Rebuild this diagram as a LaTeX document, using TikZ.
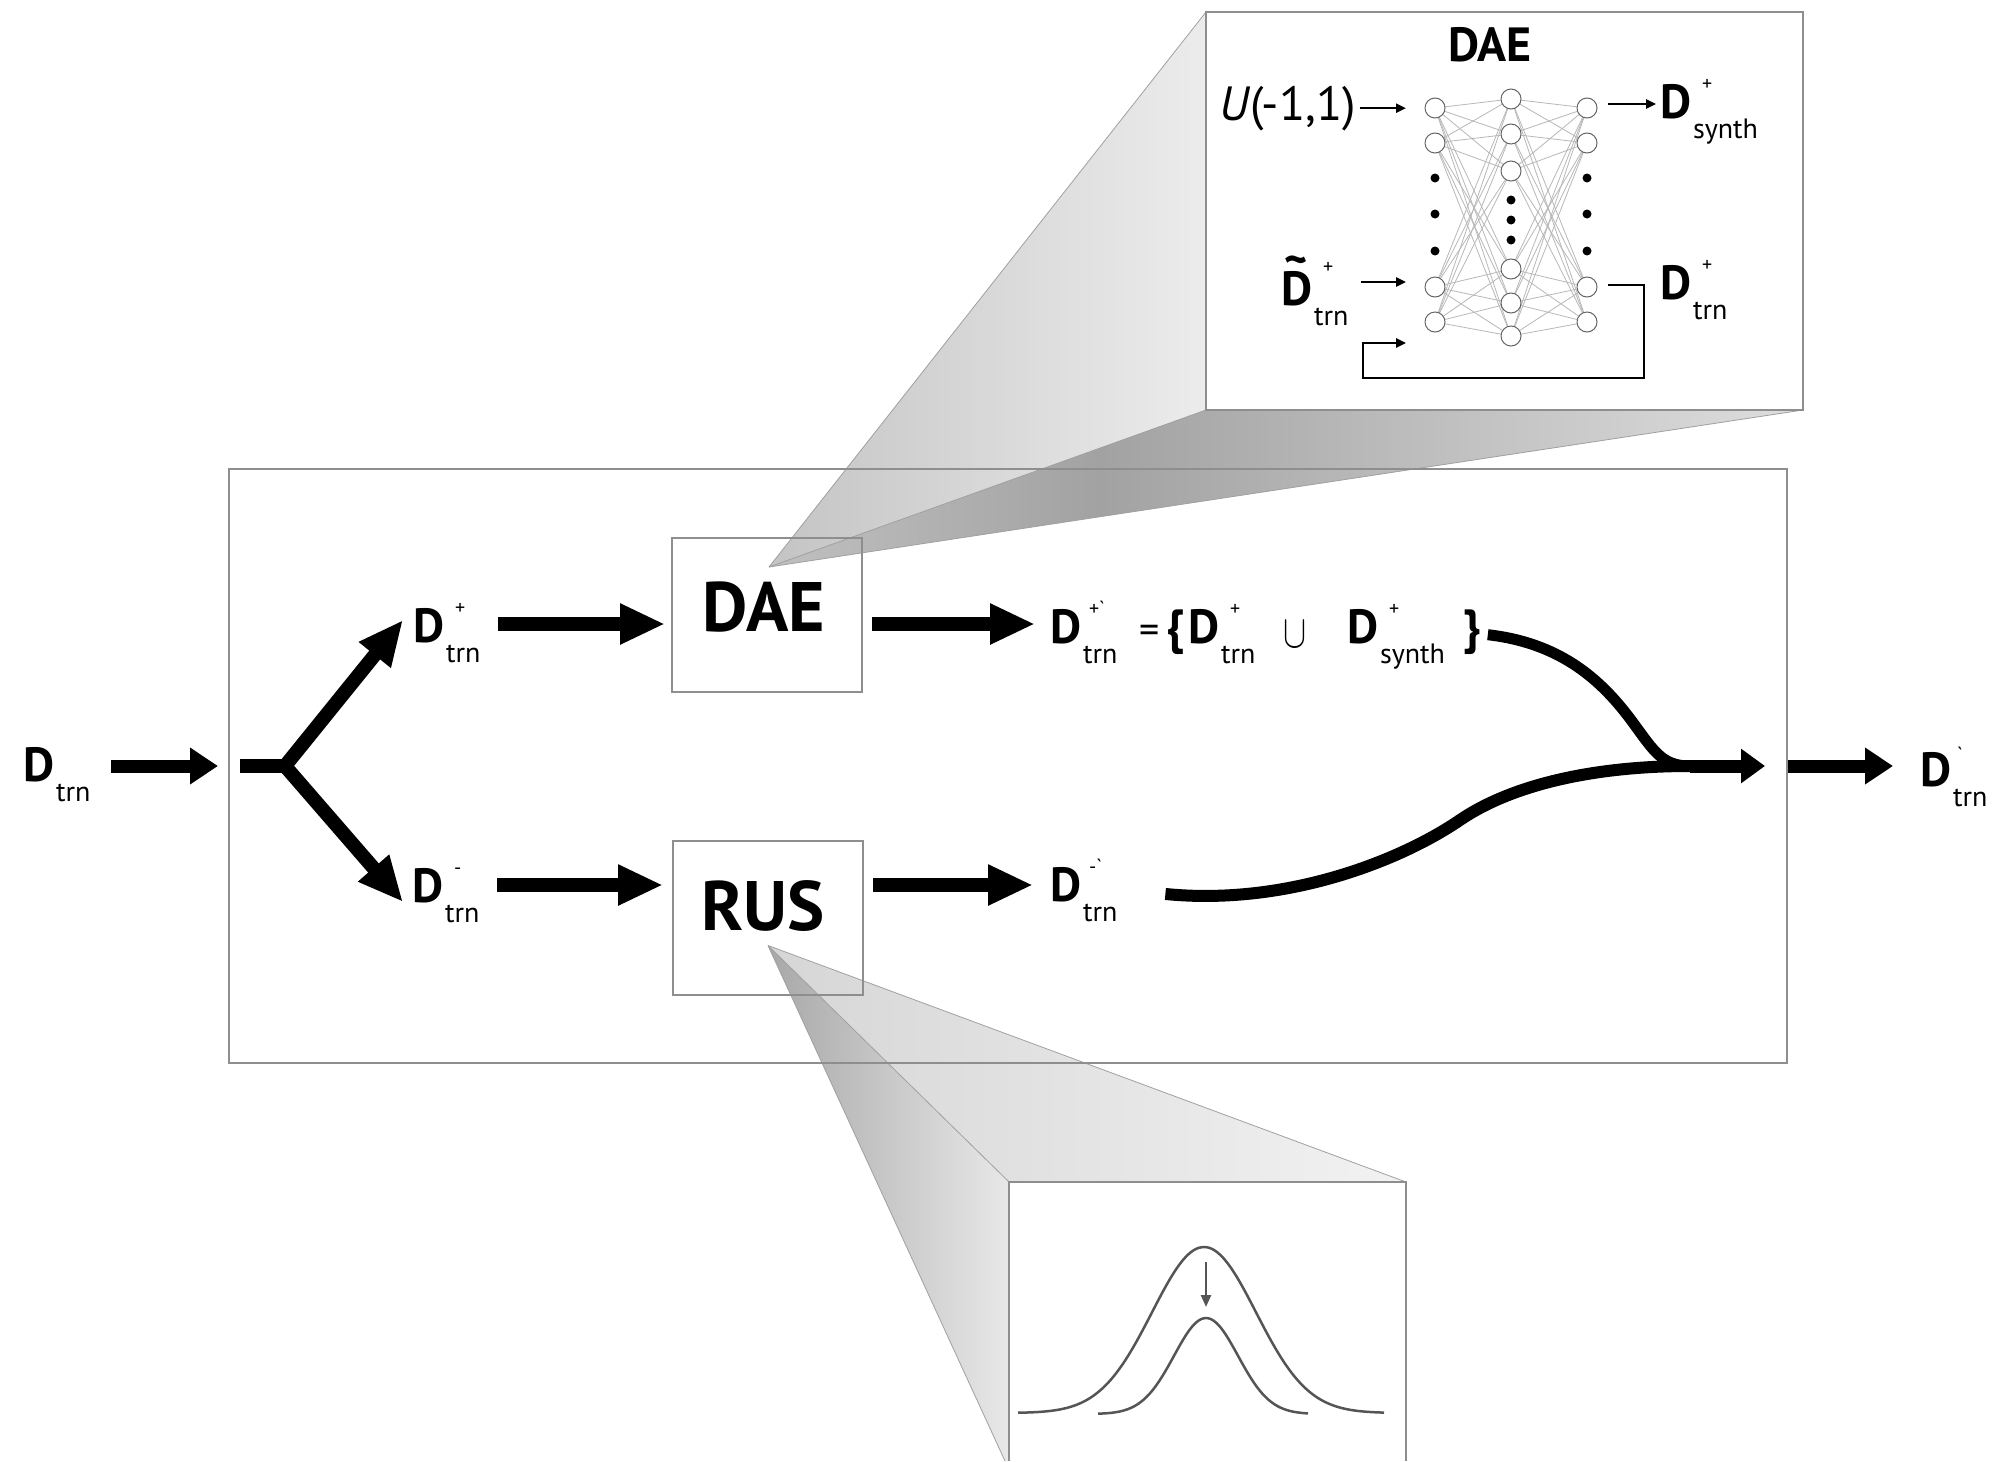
\documentclass[tikz,border=0pt]{standalone}
\usepackage{fontspec}
\setmainfont{PT Sans}[Ligatures=TeXOff]
\usetikzlibrary{arrows.meta,calc}

\definecolor{framegray}{HTML}{8E8E8E}
\definecolor{linkgray}{HTML}{B8B8B8}
\definecolor{neurongray}{HTML}{666666}
\definecolor{plotgray}{HTML}{555555}
\definecolor{edgegray}{HTML}{A0A0A0}
\definecolor{daeSideL}{HTML}{C4C4C4}
\definecolor{daeSideR}{HTML}{ECECEC}
\definecolor{daeBotL}{HTML}{C0C0C0}
\definecolor{daeBotM}{HTML}{A2A2A2}
\definecolor{daeBotR}{HTML}{DEDEDE}
\definecolor{rusSideL}{HTML}{A8A8A8}
\definecolor{rusSideR}{HTML}{E8E8E8}
\definecolor{rusTopL}{HTML}{D6D6D6}
\definecolor{rusTopR}{HTML}{F2F2F2}

\pgfdeclarehorizontalshading{daeside}{100bp}{color(0bp)=(daeSideL); color(25bp)=(daeSideL); color(75bp)=(daeSideR); color(100bp)=(daeSideR)}
\pgfdeclarehorizontalshading{daebottom}{100bp}{color(0bp)=(daeBotL); color(25bp)=(daeBotL); color(41bp)=(daeBotM); color(75bp)=(daeBotR); color(100bp)=(daeBotR)}
\pgfdeclarehorizontalshading{russide}{100bp}{color(0bp)=(rusSideL); color(25bp)=(rusSideL); color(75bp)=(rusSideR); color(100bp)=(rusSideR)}
\pgfdeclarehorizontalshading{rustop}{100bp}{color(0bp)=(rusTopL); color(25bp)=(rusTopL); color(75bp)=(rusTopR); color(100bp)=(rusTopR)}

\pgfdeclarelayer{background}
\pgfdeclarelayer{panel}
\pgfdeclarelayer{links}
\pgfsetlayers{background,panel,links,main}

% D with a superscript and a subscript:
% #1 shift of sup, #2 raise of sup, #3 sup, #4 shift of sub, #5 drop of sub, #6 sub
\newcommand{\Dlab}[6]{{\fontsize{24}{24}\selectfont\bfseries D}\rlap{\hspace{#1}\raisebox{#2}{\fontsize{10}{10}\selectfont #3}}\hspace{#4}\raisebox{-#5}{\fontsize{14}{14}\selectfont #6}}
\newcommand{\Dmain}[2]{\Dlab{5.5pt}{14pt}{#1}{1pt}{10pt}{#2}}

\begin{document}
\begin{tikzpicture}[x=0.5pt,y=-0.5pt,
  every node/.style={inner sep=0pt,outer sep=0pt},
  frame/.style={draw=framegray,line width=1pt},
  procbox/.style={frame,minimum width=95pt,minimum height=77pt},
  boxtext/.style={font=\fontsize{35}{35}\selectfont\bfseries},
  flow/.style={line width=7pt,-{Triangle[length=22.5pt,width=19pt]}},
  io/.style={line width=6.5pt,-{Triangle[length=14pt,width=17.5pt]}},
  stub/.style={line width=7pt},
  mergearr/.style={line width=6.5pt,-{Triangle[length=12pt,width=16.5pt]}},
  curveU/.style={line width=5.5pt},
  curveL/.style={line width=6pt},
  thinarr/.style={line width=1.25pt,-{Triangle[length=5pt,width=4.5pt]}},
  neuron/.style={circle,draw=neurongray,fill=white,line width=0.5pt,minimum size=10pt},
  ndot/.style={circle,fill=black,minimum size=4.5pt},
  link/.style={draw=linkgray,line width=0.4pt},
  face/.style={draw=edgegray,line width=0.4pt},
  gauss/.style={draw=plotgray,line width=1.25pt},
  plotarr/.style={draw=plotgray,line width=1.25pt,-{Triangle[length=6pt,width=5pt]}},
]
\useasboundingbox (0,0) rectangle (1995,1461);

% ---------- main frame and process boxes ----------
\node[frame,minimum width=779pt,minimum height=297pt] (main) at (1008,766) {};
\node[procbox] (dae) at (767,615) {};
\node[boxtext] (daelbl) at (764,607) {DAE};
\node[procbox] (rus) at (768,917.5) {};
\node[boxtext] (ruslbl) at (763,906) {RUS};

% ---------- data labels ----------
\node[anchor=base west] (din) at (23,781) {\Dlab{0pt}{0pt}{}{1pt}{10pt}{trn}};
\node[anchor=base west] (dplus) at (413,642) {\Dmain{+}{trn}};
\node[anchor=base west] (dminus) at (412,902) {\Dmain{-}{trn}};
\node[anchor=base west] (dpp) at (1050,643) {\Dlab{4pt}{14pt}{+`}{1pt}{10pt}{trn}};
\node[anchor=base west] (dmm) at (1050,901) {\Dlab{4pt}{14pt}{-`}{1pt}{10pt}{trn}};
\node[anchor=base west] (dout) at (1920,786) {\Dlab{3pt}{12.5pt}{`}{1pt}{10pt}{trn}};

% union formula
\node[anchor=base west,font=\fontsize{20}{20}\selectfont] (eq) at (1139,643) {=};
\node[anchor=base west,font=\fontsize{24}{24}\selectfont\bfseries] (lbr) at (1166,643) {\{};
\node[anchor=base west] (dun) at (1188,643) {\Dmain{+}{trn}};
\node[anchor=base west] (cup) at (1283,647) {\fontsize{18}{18}\selectfont\scalebox{1}[1.35]{$\cup$}};
\node[anchor=base west] (dsyn) at (1347,643) {\Dmain{+}{synth}};
\node[anchor=base west,font=\fontsize{24}{24}\selectfont\bfseries] (rbr) at (1463,643) {\}};

% ---------- flow arrows ----------
\coordinate (rowP) at (0,624);
\coordinate (rowM) at (0,885);
\coordinate (axis) at (0,766);
\coordinate (fork) at (285,766);
\coordinate (tipU) at (403,620);
\coordinate (tipD) at (403,902);
\coordinate (merge) at (1690,766);
\coordinate (upbend) at (1628,716);
\coordinate (lowbend) at (1460,820);

\draw[io,shorten <=10.5pt,shorten >=5.5pt] (din.east |- axis) -- (main.west |- axis);
\draw[stub] ($(main.west |- axis)+(11,0)$) -- (fork);
\draw[flow] (fork) -- (tipU);
\draw[flow] (fork) -- (tipD);

\draw[flow,shorten <=9pt,shorten >=3.5pt] (dplus.east |- rowP) -- (dae.west |- rowP);
\draw[flow,shorten <=5pt,shorten >=7.5pt] (dae.east |- rowP) -- (dpp.west |- rowP);
\draw[flow,shorten <=9pt,shorten >=5pt] (dminus.east |- rowM) -- (rus.west |- rowM);
\draw[flow,shorten <=5pt,shorten >=8.5pt] (rus.east |- rowM) -- (dmm.west |- rowM);

\draw[curveU] ($(rbr.east)+(7,3)$) .. controls +(70,8) and +(-30,-39) .. (upbend)
  .. controls +(25,33) and +(-30,0) .. (merge);
\draw[curveL] ($(dmm.east)+(48,4)$) .. controls +(120,12) and +(-60,41) .. (lowbend)
  .. controls +(50,-34) and +(-100,0) .. (merge);
\draw[mergearr,shorten >=11pt] (merge) -- (main.east |- merge);
\draw[io,shorten <=0.5pt,shorten >=13.5pt] (main.east |- axis) -- (dout.west |- axis);

% ---------- DAE detail ----------
\begin{pgfonlayer}{panel}
\node[frame,fill=white,minimum width=298.5pt,minimum height=199pt] (daeinset) at (1504.5,211) {};
\end{pgfonlayer}
\node[font=\fontsize{24}{24}\selectfont\bfseries] (daetitle) at (1490,45) {DAE};

\foreach \n/\y in {1/108,2/143,3/287,4/322}{
  \node[neuron] (l\n) at (1435,\y) {};
  \node[neuron] (r\n) at (1587,\y) {};
}
\foreach \n/\y in {1/99,2/134,3/171,4/269,5/303,6/336}
  \node[neuron] (m\n) at (1511,\y) {};
\foreach \n/\y in {1/178,2/214,3/251}{
  \node[ndot] (ld\n) at (1435,\y) {};
  \node[ndot] (rd\n) at (1587,\y) {};
}
\foreach \n/\y in {1/200,2/220,3/240}
  \node[ndot] (md\n) at (1511,\y) {};
\begin{pgfonlayer}{links}
\foreach \i in {1,...,4}{
  \foreach \j in {1,...,6}{
    \draw[link] (l\i) -- (m\j);
    \draw[link] (m\j) -- (r\i);
  }
}
\end{pgfonlayer}

\node[anchor=base west] (ulab) at (1219,120) {\fontsize{24}{24}\selectfont\textit{U}(-1,1)};
\node[anchor=base west] (dsynth2) at (1660,119) {\Dmain{+}{synth}};
\node[anchor=base west] (dtrn2) at (1660,299) {\Dmain{+}{trn}};
\node[anchor=base west] (dtil) at (1281,305) {\rlap{\hspace{1.5pt}\raisebox{15pt}{\fontsize{22}{22}\selectfont\bfseries\textasciitilde}}\Dlab{5.5pt}{16pt}{+}{1pt}{10pt}{trn}};

\draw[thinarr] ($(ulab.east)+(4,0)$) -- ($(l1.west |- ulab.east)+(-19,0)$);
\draw[thinarr] ($(r1.east)+(11,-4)$) -- ++(48,0);
\draw[thinarr] ($(l3.west)+(-64,-5)$) -- ($(l3.west)+(-19,-5)$);
\draw[thinarr,line width=1.4pt] ($(r3.east)+(11,-2)$) -- ++(36,0) -- ++(0,93) -- ++(-281,0) -- ++(0,-35) -- ++(43,0);

% ---------- RUS detail ----------
\coordinate (rusNW) at (1009,1182);
\coordinate (rusNE) at (1406,1182);
\coordinate (rusSW) at (1009,1461);
\coordinate (rusSE) at (1406,1461);
\draw[frame] (rusSW) -- (rusNW) -- (rusNE) -- (rusSE);
\draw[gauss] plot[domain=-186:180,samples=90,smooth] ({1204+\x},{1413-166*exp(-0.5*(\x/52)*(\x/52))});
\draw[gauss] plot[domain=-108:102,samples=70,smooth] ({1206+\x},{1414-96*exp(-0.5*(\x/32)*(\x/32))});
\coordinate (peakA) at (1206,1262);
\coordinate (peakB) at (1206,1307);
\draw[plotarr] (peakA) -- (peakB);

% ---------- zoom projections ----------
\coordinate (daeapex) at ($(dae.north west)+(97,29)$);
\coordinate (rusapex) at ($(rus.south west)+(95,-49)$);
\coordinate (rusedge) at (1005,1461);
\begin{pgfonlayer}{background}
\shade[shading=daeside] (daeapex) -- (daeinset.north west) -- (daeinset.south west) -- cycle;
\shade[shading=daebottom] (daeapex) -- (daeinset.south west) -- (daeinset.south east) -- cycle;
\draw[face] (daeapex) -- (daeinset.north west);
\draw[face] (daeapex) -- (daeinset.south west);
\draw[face] (daeapex) -- (daeinset.south east);
\shade[shading=rustop] (rusapex) -- (rusNW) -- (rusNE) -- cycle;
\shade[shading=russide] (rusapex) -- (rusNW) -- (rusSW) -- (rusedge) -- cycle;
\draw[face] (rusapex) -- (rusNE);
\draw[face] (rusapex) -- (rusNW);
\draw[face] (rusapex) -- (rusedge);
\end{pgfonlayer}
\end{tikzpicture}
\end{document}
